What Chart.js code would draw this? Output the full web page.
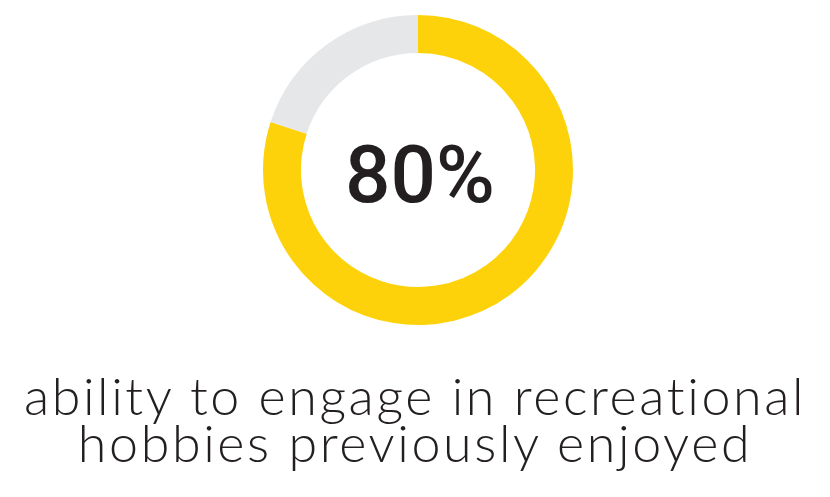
<!DOCTYPE html>
<html>
<head>
<meta charset="utf-8">
<script src="https://cdn.jsdelivr.net/npm/chart.js@4"></script>
<style>
    html, body { margin: 0; padding: 0; background: #fff; }
    body { width: 830px; height: 497px; position: relative; overflow: hidden; }
    #ring { position: absolute; left: 263px; top: 15px; width: 310px; height: 310px; }
    #caption {
        position: absolute; left: 0; top: 372px; width: 830px;
        text-align: center; color: #231F20;
        font-family: Lato, 'Open Sans', sans-serif; font-weight: 300;
        font-size: 52px; line-height: 47px; letter-spacing: 2.6px;
    }
</style>
</head>
<body>
<div id="ring"><canvas id="chart"></canvas></div>
<div id="caption">ability to engage in recreational<br>hobbies previously enjoyed</div>
<script>
const labels = ['Able', 'Not able'];
const values = [80, 20];
const colors = ['#FED20A', '#E6E7E8'];
const centerLabel = '80%';

const centerText = {
    id: 'centerText',
    afterDraw(chart) {
        const arc = chart.getDatasetMeta(0).data[0];
        if (!arc) return;
        const ctx = chart.ctx;
        ctx.save();
        ctx.fillStyle = '#231F20';
        ctx.font = '500 80px Roboto, sans-serif';
        ctx.textAlign = 'center';
        ctx.textBaseline = 'alphabetic';
        ctx.fillText(centerLabel, arc.x + 2, arc.y + 32);
        ctx.restore();
    }
};

new Chart(document.getElementById('chart'), {
    type: 'doughnut',
    data: {
        labels: labels,
        datasets: [{
            data: values,
            backgroundColor: colors,
            borderWidth: 0
        }]
    },
    options: {
        responsive: true,
        maintainAspectRatio: false,
        animation: false,
        cutout: '75.5%',
        plugins: {
            legend: { display: false },
            tooltip: { enabled: false }
        }
    },
    plugins: [centerText]
});
</script>
</body>
</html>
